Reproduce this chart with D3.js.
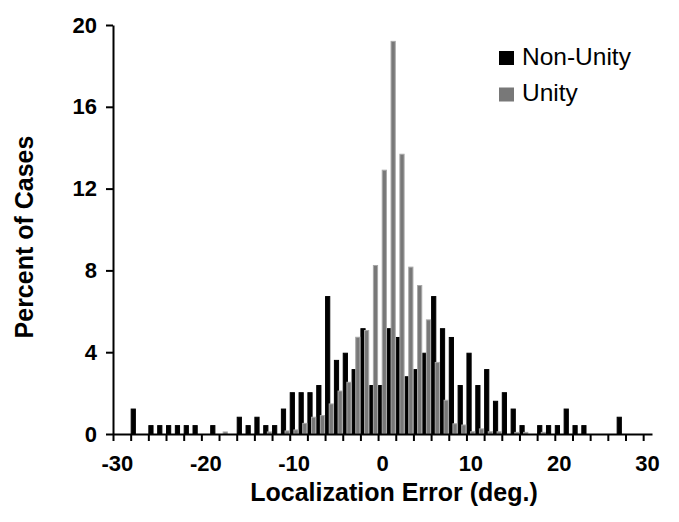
<!DOCTYPE html>
<html>
<head>
<meta charset="utf-8">
<script src="https://cdn.jsdelivr.net/npm/d3@7"></script>
<style>
  body { margin: 0; background: #fff; }
  svg { display: block; font-family: 'Liberation Sans', Arial, sans-serif; }
  .axis path, .axis line { stroke: #000; stroke-width: 2px; }
  .axis text { font-size: 22px; font-weight: bold; fill: #000; }
</style>
</head>
<body>
<div id="chart"></div>
<script>
// localization error categories (deg.), one per degree
const errors = d3.range(-30, 31);

// percent of cases, Non-Unity (black) series, -30 .. 30
const nonUnity = [
  0, 0, 1.22, 0, 0.41, 0.41, 0.41, 0.41, 0.41, 0.41,
  0, 0.41, 0, 0, 0.82, 0.41, 0.82, 0.41, 0.41, 1.22,
  2.02, 2.02, 2.02, 2.37, 6.72, 3.6, 3.95, 3.15, 5.15, 2.37,
  2.37, 5.15, 4.72, 2.8, 3.15, 3.95, 6.72, 5.15, 4.72, 2.37,
  3.95, 2.37, 3.15, 1.6, 2.02, 1.22, 0.41, 0, 0.41, 0.41,
  0.41, 1.22, 0.41, 0.41, 0, 0, 0, 0.82, 0, 0, 0
];

// percent of cases, Unity (grey) series, -30 .. 30
const unity = [
  0, 0, 0, 0, 0, 0, 0, 0, 0, 0,
  0, 0, 0.1, 0, 0, 0, 0, 0.1, 0, 0.15,
  0.2, 0.52, 0.82, 0.9, 1.47, 2.1, 2.53, 4.73, 5.06, 8.24,
  12.9, 19.2, 13.68, 8.16, 7.26, 5.58, 3.5, 1.65, 0.5, 0.44,
  0.11, 0.25, 0.11, 0.11, 0, 0.08, 0.08, 0, 0.08, 0,
  0, 0, 0, 0, 0, 0, 0, 0, 0, 0, 0
];

const yTicks = [0, 4, 8, 12, 16, 20];
const xLabels = [-30, -20, -10, 0, 10, 20, 30];
const xTicks = d3.range(-30, 31, 2);

const series = [
  { name: 'Non-Unity', values: nonUnity, fill: '#000', stroke: '#000' },
  { name: 'Unity', values: unity, fill: '#787878', stroke: '#a8a8a8' }
];

const width = 679, height = 522;
const plotLeft = 113, plotRight = 652, plotTop = 25, plotBottom = 434;

const svg = d3.select('#chart').append('svg')
  .attr('width', width)
  .attr('height', height);

const x = d3.scaleBand().domain(errors).range([plotLeft, plotRight]).padding(0);
// tick positions sit on the left edge of each category
const xEdge = d3.scaleLinear().domain([-30, 31]).range([plotLeft, plotRight]);
const y = d3.scaleLinear().domain([0, 20]).range([plotBottom, plotTop]);

// clustered bars, 30% overlap, no gap
const barW = x.bandwidth() / (2 - 0.3);
const offset = barW * 0.7;

series.forEach((s, si) => {
  svg.append('g')
    .selectAll('rect')
    .data(errors.map((e, i) => ({ e, v: s.values[i] })).filter(d => d.v > 0))
    .join('rect')
    .attr('x', d => x(d.e) + si * offset + 0.5)
    .attr('y', d => y(d.v))
    .attr('width', barW - 1)
    .attr('height', d => plotBottom - y(d.v))
    .attr('fill', s.fill)
    .attr('stroke', s.stroke)
    .attr('stroke-width', 1);
});

// x axis: ticks every 2 deg., labels every 10 deg.
svg.append('g')
  .attr('class', 'axis')
  .attr('transform', `translate(0,${plotBottom})`)
  .call(d3.axisBottom(xEdge).tickValues(xTicks).tickSize(7).tickSizeOuter(0).tickFormat(''));

svg.append('g')
  .attr('class', 'axis')
  .attr('transform', `translate(0,${plotBottom})`)
  .call(d3.axisBottom(x).tickValues(xLabels).tickSize(0).tickPadding(21))
  .call(g => g.select('.domain').remove());

svg.append('g')
  .attr('class', 'axis')
  .attr('transform', `translate(${plotLeft},0)`)
  .call(d3.axisLeft(y).tickValues(yTicks).tickSize(7).tickSizeOuter(0).tickPadding(9));

// axis titles
svg.append('text')
  .attr('x', 394)
  .attr('y', 501)
  .attr('text-anchor', 'middle')
  .style('font-size', '25px')
  .style('font-weight', 'bold')
  .text('Localization Error (deg.)');

svg.append('text')
  .attr('transform', 'translate(33,237) rotate(-90)')
  .attr('text-anchor', 'middle')
  .style('font-size', '25px')
  .style('font-weight', 'bold')
  .text('Percent of Cases');

// legend
const legend = svg.append('g').attr('transform', 'translate(499,50)');
series.forEach((s, i) => {
  const row = legend.append('g').attr('transform', `translate(0,${i * 36.5})`);
  row.append('rect')
    .attr('width', 15)
    .attr('height', 14)
    .attr('y', 1)
    .attr('fill', s.fill);
  row.append('text')
    .attr('x', 23)
    .attr('y', 14.5)
    .style('font-size', '24.5px')
    .text(s.name);
});
</script>
</body>
</html>
